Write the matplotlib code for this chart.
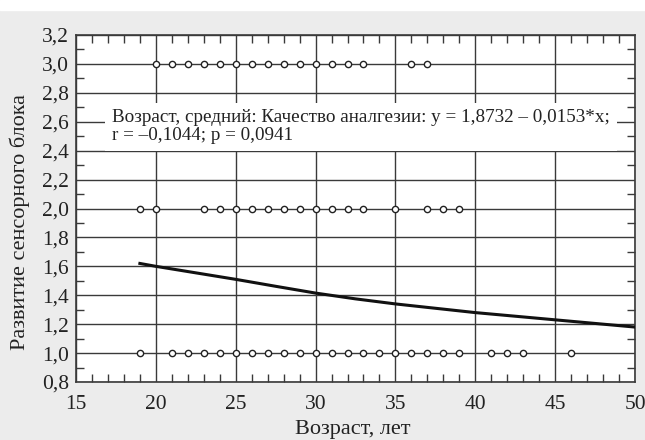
import matplotlib.pyplot as plt
from matplotlib.patches import Rectangle
from matplotlib.ticker import MultipleLocator, FuncFormatter

plt.rcParams["font.family"] = ["Liberation Serif", "DejaVu Serif"]

# возраст (лет) для каждого уровня развития блока
age_level_3 = [20, 21, 22, 23, 24, 25, 26, 27, 28, 29, 30, 31, 32, 33, 36, 37]
age_level_2 = [19, 20, 23, 24, 25, 26, 27, 28, 29, 30, 31, 32, 33, 35, 37, 38, 39]
age_level_1 = [19, 21, 22, 23, 24, 25, 26, 27, 28, 29, 30, 31, 32, 33, 34,
               35, 36, 37, 38, 39, 41, 42, 43, 46]

# кривая
curve_x = [19, 20, 22.5, 25, 27.5, 30, 32.5, 35, 37.5, 40, 42.5, 45, 47.5, 50]
curve_y = [1.62, 1.60, 1.555, 1.51, 1.462, 1.415, 1.375, 1.34, 1.31, 1.28,
           1.255, 1.23, 1.205, 1.18]

annotation_text = ("Возраст, средний: Качество аналгезии: y = 1,8732 \u2013 0,0153*x;\n"
                   "r = \u20130,1044; p = 0,0941")

GRID_COLOR = "#3a3a3a"
TEXT_COLOR = "#222222"

fig = plt.figure(figsize=(6.45, 4.4), dpi=100)
fig.patch.set_facecolor("#ececec")
fig.patches.append(Rectangle((0, 1 - 10 / 440), 1, 10 / 440,
                             transform=fig.transFigure, color="white", zorder=0))

ax = fig.add_axes([76 / 645, 1 - 382 / 440, 559 / 645, 347 / 440])
ax.set_facecolor("white")

ax.set_xlim(15, 50)
ax.set_ylim(0.8, 3.2)

ax.xaxis.set_major_locator(MultipleLocator(5))
ax.xaxis.set_minor_locator(MultipleLocator(1))
ax.yaxis.set_major_locator(MultipleLocator(0.2))
ax.yaxis.set_minor_locator(MultipleLocator(0.1))

comma = FuncFormatter(lambda v, pos: f"{v:.1f}".replace(".", ","))
ax.yaxis.set_major_formatter(comma)
ax.xaxis.set_major_formatter(FuncFormatter(lambda v, pos: f"{v:.0f}"))

ax.grid(True, which="major", color=GRID_COLOR, linewidth=1.0, zorder=1)
ax.tick_params(which="major", length=0, pad=5, labelsize=15.5, colors=TEXT_COLOR)
ax.tick_params(which="minor", direction="in", length=6, width=1.0,
               top=True, right=True, left=True, bottom=True, color=GRID_COLOR)
ax.tick_params(axis="x", which="major", pad=9)

for spine in ax.spines.values():
    spine.set_color(GRID_COLOR)
    spine.set_linewidth(1.2)

for level, ages in [(3.0, age_level_3), (2.0, age_level_2), (1.0, age_level_1)]:
    ax.plot(ages, [level] * len(ages), linestyle="none", marker="o",
            markersize=4.5, markerfacecolor="white", markeredgecolor=TEXT_COLOR,
            markeredgewidth=1.0, zorder=4, clip_on=False)

ax.plot(curve_x, curve_y, color="#111111", linewidth=2.2, zorder=3)

ax.text(17.25, 2.565, annotation_text, fontsize=13.8, color=TEXT_COLOR,
        ha="left", va="center", linespacing=1.05, zorder=5,
        bbox=dict(facecolor="white", edgecolor="none", pad=5))

ax.set_xlabel("Возраст, лет", fontsize=16, color=TEXT_COLOR)
ax.set_ylabel("Развитие сенсорного блока", fontsize=16, color=TEXT_COLOR)
ax.xaxis.set_label_coords(0.495, -0.138)
ax.yaxis.set_label_coords(-0.1, 0.4625)
ax.xaxis.label.set_va("center")
ax.yaxis.label.set_va("center")

fig.savefig("out.png", dpi=100, facecolor=fig.get_facecolor())
